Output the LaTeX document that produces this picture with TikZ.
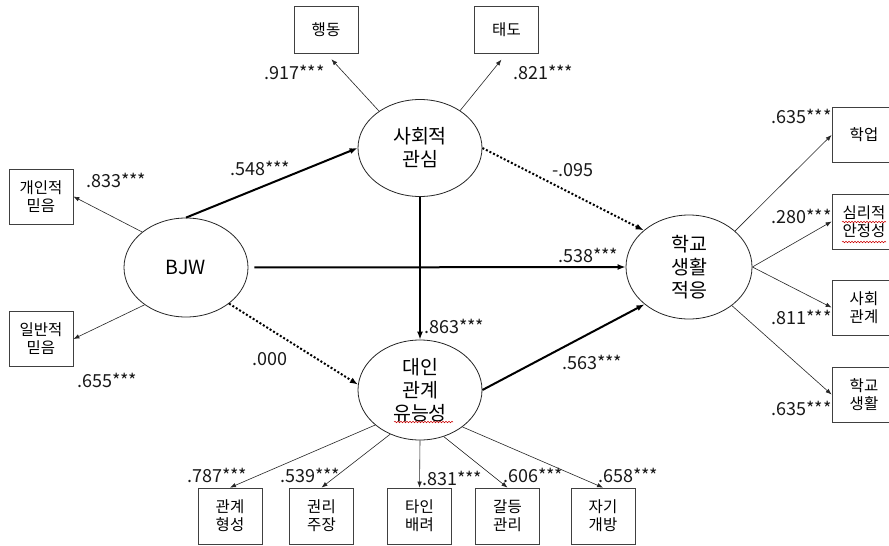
\documentclass[tikz,border=0pt]{standalone}
\usepackage{fontspec}
\setmainfont{Noto Sans CJK KR}
\usetikzlibrary{shapes.geometric,arrows.meta,decorations.pathmorphing}
\begin{document}
\begin{tikzpicture}[x=1pt,y=-1pt,
  lat/.style={ellipse,draw=black!85,line width=0.8pt,minimum width=124pt,minimum height=99pt,inner sep=0pt,align=center,font=\fontsize{19.5}{23}\selectfont},
  obs/.style={rectangle,draw=black!75,line width=0.8pt,minimum width=64pt,minimum height=55pt,inner sep=0pt,align=center,font=\fontsize{15.5}{18}\selectfont},
  ind/.style={line width=0.6pt,draw=black!85,-{Latex[length=6pt,width=4.5pt]}},
  strong/.style={line width=2pt,-{Latex[length=8pt,width=6pt]}},
  nsig/.style={line width=2pt,dash pattern=on 2pt off 2pt,-{Latex[length=8pt,width=6pt]}},
  lbl/.style={font=\fontsize{18}{21}\selectfont,inner sep=0pt,text=black!90},
  spell/.style={draw=red!80!black,line width=0.5pt,decorate,decoration={snake,amplitude=0.8pt,segment length=3pt}}
]
\fill[white] (0,0) rectangle (889,546);
\clip (0,0) rectangle (889,546);

% latent variables
\node[lat] (bjw) at (186,267.5) {BJW};
\node[lat,minimum height=97pt] (sc) at (420,148) {사회적\\관심};
\node[lat,minimum height=100pt] (ic) at (420,390) {대인\\관계\\유능성};
\node[lat,minimum width=126pt,minimum height=104pt] (sa) at (689,267) {학교\\생활\\적응};

% indicators
\node[obs,minimum height=47pt] (beh) at (326,29.5) {행동};
\node[obs,minimum height=47pt] (att) at (506.5,29.5) {태도};
\node[obs] (pb) at (41,196.5) {개인적\\믿음};
\node[obs] (gb) at (41,339) {일반적\\믿음};
\node[obs] (acad) at (864,135) {학업};
\node[obs] (psy) at (864,221.5) {심리적\\안정성};
\node[obs] (soc) at (864,307.5) {사회\\관계};
\node[obs] (sch) at (864,394.5) {학교\\생활};
\node[obs,minimum height=56pt] (b1) at (230,516) {관계\\형성};
\node[obs,minimum height=56pt] (b2) at (321.5,516) {권리\\주장};
\node[obs,minimum height=56pt] (b3) at (419.5,516) {타인\\배려};
\node[obs,minimum height=56pt] (b4) at (507.5,516) {갈등\\관리};
\node[obs,minimum height=56pt] (b5) at (603,516) {자기\\개방};

% structural paths
\draw[strong] (bjw.north) -- (sc.west);
\draw[strong,shorten <=6pt] (bjw.east) -- (sa.west);
\draw[nsig] (bjw.-40) -- (ic.175);
\draw[strong] (sc.south) -- (ic.north);
\draw[nsig] (sc.east) -- (sa.141);
\draw[strong] (ic.east) -- (sa.220);

% measurement paths
\draw[ind,shorten >=8pt] (sc.138) -- (beh.south);
\draw[ind,shorten >=8pt] (sc.43) -- (att.south);
\draw[ind] (bjw.141) -- (pb.east);
\draw[ind] (bjw.222) -- (gb.east);
\draw[ind] (sa.38) -- (acad.west);
\draw[ind] (sa.east) -- (psy.west);
\draw[ind] (sa.east) -- (soc.west);
\draw[ind] (sa.-42) -- (sch.west);
\draw[ind] (ic.218) -- (b1.north);
\draw[ind] (ic.236) -- (b2.north);
\draw[ind] (ic.south) -- (b3.north);
\draw[ind] (ic.-63) -- (b4.north);
\draw[ind] (ic.-41) -- (b5.north);

% coefficients
\node[lbl,anchor=east] (t1) at (325,72) {.917***};
\node[lbl,anchor=west] (t2) at (513,72) {.821***};
\node[lbl,anchor=west] (t3) at (86,180) {.833***};
\node[lbl,anchor=west] (t4) at (77,380) {.655***};
\node[lbl,anchor=west] (t5) at (230,168) {.548***};
\node[lbl,anchor=west] (t6) at (552,170) {-.095};
\node[lbl,anchor=west] (t7) at (558,255) {.538***};
\node[lbl,anchor=west] (t8) at (424,326) {.863***};
\node[lbl,anchor=west] (t9) at (562,362) {.563***};
\node[lbl,anchor=west] (t10) at (252,359) {.000};
\node[lbl,anchor=east] (t11) at (832,116) {.635***};
\node[lbl,anchor=east] (t12) at (832,216) {.280***};
\node[lbl,anchor=east] (t13) at (832,317) {.811***};
\node[lbl,anchor=east] (t14) at (832,408) {.635***};
\node[lbl,anchor=west] (t15) at (187,475) {.787***};
\node[lbl,anchor=west] (t16) at (280,475) {.539***};
\node[lbl,anchor=west] (t17) at (422,478) {.831***};
\node[lbl,anchor=west] (t18) at (503,475) {.606***};
\node[lbl,anchor=west] (t19) at (598,475) {.658***};

% spell-check underlines
\draw[spell] (394,422) -- (453,422);
\draw[spell] (842,222) -- (886,222);
\draw[spell] (842,242) -- (886,242);
\end{tikzpicture}
\end{document}
